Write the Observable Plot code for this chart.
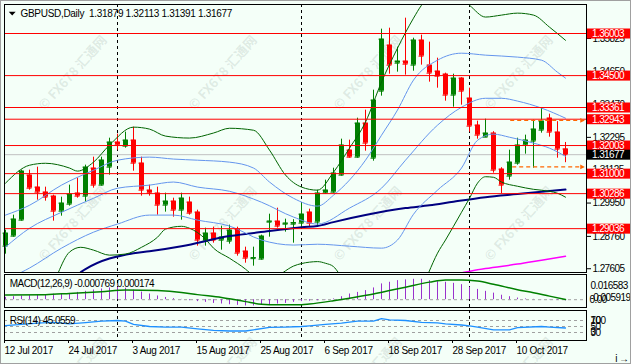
<!DOCTYPE html>
<html><head><meta charset="utf-8">
<script src="https://cdn.jsdelivr.net/npm/d3@7"></script>
<script src="https://cdn.jsdelivr.net/npm/@observablehq/plot@0.6"></script>
<style>
html,body{margin:0;padding:0;background:#F4FFF8;}
#wrap{position:relative;width:631px;height:364px;background:#F4FFF8;overflow:hidden;}
#wrap > svg{position:absolute;left:0;top:0;}
#border{position:absolute;left:0;top:0;width:631px;height:364px;box-sizing:border-box;border:1px solid #A0A0A0;}
</style></head>
<body><div id="wrap"></div>
<script>
// ---------------- DATA ----------------
const opens = [1.28411,1.28768,1.29339,1.30946,1.30517,1.30339,1.30196,1.29660,1.29910,1.30303,
1.30196,1.31195,1.30589,1.31231,1.32124,1.31981,1.32195,1.31374,1.30410,1.30303,
1.29875,1.30017,1.29696,1.29982,1.29625,1.28589,1.28875,1.28625,1.28589,1.29018,
1.28232,1.27965,1.27947,1.29268,1.29303,1.29196,1.29196,1.29232,1.29625,1.29268,
1.30303,1.30339,1.30946,1.31838,1.31588,1.32802,1.31552,1.33944,1.35587,1.34944,
1.35015,1.34873,1.35765,1.34873,1.34658,1.34551,1.33802,1.34408,1.33694,1.32731,
1.32302,1.32445,1.31160,1.30910,1.31374,1.32017,1.32159,1.32552,1.32980,1.32481,
1.31879];
const highs = [1.28982,1.29518,1.31124,1.31124,1.31231,1.30517,1.30232,1.30160,1.30589,1.30838,
1.31303,1.31588,1.31588,1.32266,1.32409,1.32481,1.32659,1.31588,1.30589,1.30517,
1.30303,1.30124,1.30303,1.30160,1.29696,1.29053,1.29089,1.29125,1.29161,1.29089,
1.28375,1.28375,1.28804,1.29553,1.29767,1.29375,1.29357,1.29946,1.29732,1.30410,
1.30767,1.31195,1.32231,1.32195,1.32980,1.33266,1.33980,1.36158,1.36193,1.35515,
1.36550,1.35836,1.35944,1.35694,1.35122,1.34587,1.34551,1.34426,1.34051,1.32873,
1.32945,1.32498,1.31213,1.31838,1.32266,1.32374,1.32909,1.33361,1.33123,1.32855,
1.32113];
const lows = [1.28125,1.28732,1.29303,1.30410,1.30053,1.30017,1.29303,1.29482,1.29839,1.30124,
1.29982,1.30481,1.30553,1.30946,1.31838,1.31909,1.31088,1.30196,1.30196,1.29518,
1.29625,1.29446,1.29339,1.29518,1.28411,1.28411,1.28518,1.28268,1.28482,1.28054,
1.27804,1.27697,1.27911,1.28732,1.29053,1.28911,1.28518,1.29089,1.29089,1.29089,
1.30267,1.30303,1.30910,1.31552,1.31552,1.31802,1.31445,1.33766,1.34551,1.34623,
1.34516,1.34658,1.34873,1.34266,1.34051,1.33587,1.33373,1.33445,1.32481,1.32231,
1.32285,1.31017,1.30286,1.30767,1.31303,1.31695,1.31195,1.32445,1.32302,1.31552,
1.31391];
const closes = [1.28875,1.29375,1.31088,1.30481,1.30339,1.30160,1.29660,1.29946,1.30267,1.30196,
1.31231,1.30589,1.31481,1.32124,1.32017,1.32195,1.31374,1.30410,1.30303,1.29875,
1.30017,1.29696,1.30124,1.29589,1.28625,1.28875,1.28625,1.28732,1.28982,1.28161,
1.27982,1.28000,1.28768,1.29303,1.29125,1.29232,1.29250,1.29553,1.29232,1.30303,
1.30410,1.31017,1.32017,1.31588,1.32802,1.32088,1.33623,1.35801,1.34873,1.35015,
1.34908,1.35765,1.35194,1.34587,1.34480,1.33802,1.34408,1.33944,1.32695,1.32374,
1.32445,1.31124,1.30589,1.31409,1.32017,1.32195,1.32588,1.32873,1.32481,1.31874,
1.31677];

const titleText = "GBPUSD,Daily\u00a0 1.31879 1.32113 1.31391 1.31677";
const levels = [1.36003, 1.34500, 1.33361, 1.32943, 1.32003, 1.31000, 1.30286, 1.29036];
const lastPrice = 1.31677;
const priceTicks = [1.27605, 1.28760, 1.29950, 1.31125, 1.32295, 1.33470, 1.34650, 1.35825];
const monthStarts = [14, 37, 58];
const dateTickIdx = [0, 8, 16, 24, 32, 40, 48, 56, 64];
const dateLabels = ["12 Jul 2017","24 Jul 2017","3 Aug 2017","15 Aug 2017","25 Aug 2017","6 Sep 2017","18 Sep 2017","28 Sep 2017","10 Oct 2017"];

// Bollinger bands (at sample bars)
const bbMidIdx = [0,3,7,11,14,18,21,24,28,32,36,39,43,47,50,54,57,60,62,64,67,70];
const bbMid = [1.2838,1.2905,1.2962,1.3012,1.3048,1.3059,1.3070,1.3052,1.3037,1.2998,1.2945,1.2920,1.2977,1.3048,1.3148,1.3273,1.3337,1.3369,1.3369,1.3359,1.3334,1.3298];
const bbUpBlueIdx = [0,3,7,11,14,18,21,24,28,31,33,36,39,41,43,45,47,49,51,54,57,60,64,67,69,70];
const bbUpBlue = [1.2952,1.2987,1.3059,1.3112,1.3148,1.3159,1.3152,1.3148,1.3141,1.3120,1.3070,1.3012,1.2984,1.3023,1.3077,1.3148,1.3237,1.3327,1.3434,1.3505,1.3530,1.3523,1.3516,1.3505,1.3462,1.3441];
const bbLowBlueIdx = [2,3,7,11,14,18,21,24,28,32,36,39,43,47,49,51,54,57,59,61,63,66,68,70];
const bbLowBlue = [1.2748,1.2763,1.2834,1.2891,1.2920,1.2952,1.2952,1.2934,1.2913,1.2863,1.2845,1.2848,1.2841,1.2834,1.2863,1.2955,1.3041,1.3120,1.3219,1.3241,1.3230,1.3209,1.3191,1.3162];
const bbUpGreenIdx = [0,3,5,8,9,11,13,16,18,20,23,26,28,31,33,35,37,39,41,43,45,47,49,51,52,54,56,58,60,62,64,66,68,70];
const bbUpGreen = [1.3066,1.3130,1.3137,1.3120,1.3109,1.3141,1.3202,1.3266,1.3259,1.3234,1.3227,1.3245,1.3262,1.3255,1.3184,1.3095,1.3052,1.3041,1.3105,1.3191,1.3284,1.3427,1.3548,1.3655,1.3701,1.3748,1.3748,1.3701,1.3659,1.3666,1.3673,1.3666,1.3623,1.3576];
const bbLowGreenIdx = [6.6,8,9.4,11,13,15,17,19,20,22,23,25,26,28,30,30.5,31,34.7,36,37,38,39,40,41,41.6,42,52.9,54,55,56,57,58,59,60,61,62,64,66,68,69,70];
const bbLowGreen = [1.2747,1.2820,1.2837,1.2827,1.2809,1.2813,1.2837,1.2873,1.2902,1.2912,1.2905,1.2866,1.2834,1.2798,1.2759,1.2747,null,1.2747,1.2770,1.2779,1.2784,1.2786,1.2780,1.2768,1.2747,null,1.2747,1.2816,1.2863,1.2912,1.2962,1.3012,1.3066,1.3089,1.3087,1.3070,1.3055,1.3044,1.3037,1.3030,1.3016];

// Moving averages
const ma100Idx = [9.4,10,16,18,22,28,33,37,39,41,45,50,53,56,60,64,70];
const ma100 = [1.2748,1.2759,1.2816,1.2823,1.2841,1.2877,1.2895,1.2909,1.2913,1.2927,1.2952,1.2977,1.2987,1.3000,1.3016,1.3027,1.3043];
const ma200Idx = [57.2,60,64,67,70];
const ma200 = [1.2747,1.2761,1.2777,1.2791,1.2805];

// Orange projection arrows (price, start bar, end bar)
const arrowPrice = [1.3290, 1.3124];
const arrowFrom = [63.15, 63.4];
const arrowTo = [71.8, 71.8];
const arrowHead = [72.1, 72.1];

// MACD
const macdLabel = "MACD(12,26,9) -0.000769 0.000174";
const macdMax = 0.016583, macdMin = -0.005919;
const macdHist = [0.00155,0.0020,0.0025,0.0027,0.0032,0.0034,0.0037,0.0037,0.0042,0.0049,
0.0056,0.0065,0.0072,0.0079,0.0083,0.0077,0.0064,0.0051,0.0038,0.0025,
0.0015,0.0007,0.0002,-0.0007,-0.0013,-0.0018,-0.0025,-0.0029,-0.0034,-0.0038,
-0.0042,-0.0042,-0.0038,-0.0034,-0.0029,-0.0025,-0.0018,-0.0013,-0.0010,-0.0007,
-0.0002,0.0005,0.0020,0.0038,0.0049,0.0061,0.0079,0.0106,0.0117,0.0128,
0.0133,0.0137,0.0137,0.0128,0.0121,0.0117,0.0110,0.0101,0.0083,0.0069,
0.0056,0.0044,0.0030,0.0020,0.0011,0.0005,0.0002,-0.0001,-0.0002,-0.0004,
-0.000769];
const macdSigIdx = [0,5,8,12,15,19,22,24,27,30,32,34,37,38,41,43,46,48,50,53,55,57,59,61,64,66,68,70];
const macdSig = [0.0032,0.0034,0.0042,0.0054,0.0065,0.0061,0.0049,0.0034,0.0015,-0.0013,-0.0030,-0.0034,-0.0034,-0.0029,-0.0007,0.0010,0.0038,0.0061,0.0084,0.0118,0.0133,0.0133,0.0125,0.0104,0.0067,0.0047,0.0024,0.000174];

// RSI
const rsiLabel = "RSI(14) 45.0559";
const rsiIdx = [0,2,4,6,8,10,12,14,15,16,18,20,22,24,26,28,30,31,33,35,37,38,40,42,44,46,47,48,50,52,54,55,57,58,59,61,63,64,67,68,70];
const rsi = [53,57,61,64,59,63,68,70,68,57,50,48,48,42,37,35,35,39,47,48,50,52,57,61,68,68,76,72,70,64,62,59,55,52,48,39,39,46,50,48,45.0559];
const rsiLevels = [30, 50, 70];

// ---------------- BUILD ----------------
const wrap = document.getElementById("wrap");
const FONT = "'Liberation Sans', Arial, sans-serif";
const style = (ls) => ({background: "transparent", fontFamily: FONT, fontSize: "10px", color: "black", letterSpacing: ls, overflow: "visible"});

const bars = opens.map((o, i) => ({i, open: o, high: highs[i], low: lows[i], close: closes[i]}));
const col = d => d.close >= d.open ? "#008000" : "#FF0000";
const half = 2.5 / 8;
const pts = (ix, vs) => ix.map((i, k) => ({i, v: vs[k]}));
const arrows = arrowPrice.map((p, k) => ({price: p, from: arrowFrom[k], to: arrowTo[k], head: arrowHead[k]}));
const dateMap = new Map(dateTickIdx.map((d, k) => [d, dateLabels[k]]));

const rightTri = {draw(ctx, size) { const s = Math.sqrt(size); ctx.moveTo(s * 0.55, 0); ctx.lineTo(-s * 0.45, -s * 0.5); ctx.lineTo(-s * 0.45, s * 0.5); ctx.closePath(); }};
const downTri = {draw(ctx, size) { const s = Math.sqrt(size); ctx.moveTo(-s * 0.75, -s * 0.3); ctx.lineTo(s * 0.75, -s * 0.3); ctx.lineTo(0, s * 0.5); ctx.closePath(); }};

// watermark layer
const wm = d3.create("svg").attr("width", 631).attr("height", 364);
for (const cy of [72, 223, 374]) for (const cx of [72, 222, 367, 518]) {
  wm.append("text").attr("transform", `translate(${cx},${cy}) rotate(-48)`)
    .attr("text-anchor", "middle").attr("dominant-baseline", "central")
    .attr("font-family", "'Noto Sans CJK SC','DejaVu Sans',sans-serif").attr("font-weight", "bold")
    .attr("font-size", 13).attr("fill", "#6f7f7a").attr("fill-opacity", 0.17).text("© FX678 汇通网");
}
wrap.append(wm.node());

const lineOpts = (stroke, w) => ({x: "i", y: "v", stroke, strokeWidth: w, curve: "monotone-x", clip: true});

const main = Plot.plot({
  width: 631, height: 364, marginLeft: 4, marginRight: 45, marginTop: 4, marginBottom: 92,
  x: {domain: [-0.125, 72.625], axis: null},
  y: {domain: [1.274707, 1.370383]},
  style: style("-0.3px"),
  marks: [
    Plot.ruleX(monthStarts, {stroke: "black", strokeDasharray: "3,3"}),
    Plot.ruleY([lastPrice], {stroke: "#C0C0C0"}),
    Plot.ruleX(bars, {x: "i", y1: "low", y2: "high", stroke: col}),
    Plot.ruleX(bars, {x: "i", y1: "open", y2: "close", stroke: col, strokeWidth: 5}),
    Plot.ruleY(bars, {y: "open", x1: d => d.i - half, x2: d => d.i + half, stroke: col}),
    Plot.ruleY(bars, {y: "close", x1: d => d.i - half, x2: d => d.i + half, stroke: col}),
    Plot.line(pts(ma200Idx, ma200), lineOpts("#FF00FF", 1.5)),
    Plot.line(pts(ma100Idx, ma100), lineOpts("#000080", 2)),
    Plot.line(pts(bbUpGreenIdx, bbUpGreen), lineOpts("#006400", 1)),
    Plot.line(pts(bbLowGreenIdx, bbLowGreen), lineOpts("#006400", 1)),
    Plot.line(pts(bbUpBlueIdx, bbUpBlue), lineOpts("#6495ED", 1)),
    Plot.line(pts(bbMidIdx, bbMid), lineOpts("#6495ED", 1)),
    Plot.line(pts(bbLowBlueIdx, bbLowBlue), lineOpts("#6495ED", 1)),
    Plot.ruleY(levels, {stroke: "#FF0000", strokeWidth: 1}),
    Plot.ruleY(arrows, {y: "price", x1: "from", x2: "to", stroke: "#FF6600", strokeDasharray: "4,3", strokeWidth: 1.2}),
    Plot.dot(arrows, {x: "head", y: "price", symbol: rightTri, r: 2.6, fill: "#FF6600", stroke: null}),
    Plot.frame({stroke: "black"}),
    Plot.axisY(priceTicks, {anchor: "right", tickSize: 4, tickPadding: 2, tickFormat: d3.format(".5f"), fontSize: 10}),
    Plot.text([titleText], {frameAnchor: "top-left", dx: 16, dy: 5.6, lineAnchor: "top", textAnchor: "start", fill: "black", fontSize: 10}),
    Plot.dot([0], {frameAnchor: "top-left", dx: 7.7, dy: 8.6, symbol: downTri, r: 2.6, fill: "black", stroke: null})
  ]
});
wrap.append(main);
d3.select(main).select('g[aria-label="y-axis tick label"]').style("letter-spacing", "-0.6px");

// price label boxes on the right axis, positioned through Plot's y scale
const ys = main.scale("y");
const Y = ys.apply ? (p => ys.apply(p)) : d3.scaleLinear(ys.domain, ys.range);
const boxG = d3.select(main).append("g").attr("text-anchor", "start");
const boxes = levels.map(p => ({p, fill: "#FF0000"})).concat([{p: lastPrice, fill: "#000000"}]);
for (const b of boxes) {
  const c = Y(b.p) + 0.5;
  boxG.append("rect").attr("x", 587).attr("y", c - 5).attr("width", 44).attr("height", 10).attr("fill", b.fill);
  boxG.append("text").attr("x", 592).attr("y", c + 3.6).attr("fill", "white").attr("font-size", 10)
    .attr("text-anchor", "start").attr("font-family", FONT).style("letter-spacing", "-0.6px").text(d3.format(".5f")(b.p));
}

const macd = Plot.plot({
  width: 631, height: 364, marginLeft: 4, marginRight: 45, marginTop: 274, marginBottom: 57,
  x: {domain: [-0.125, 72.625], axis: null},
  y: {domain: [macdMin, macdMax], range: [308, 274.5], axis: null},
  style: style("-0.55px"),
  marks: [
    Plot.ruleX(monthStarts, {stroke: "black", strokeDasharray: "3,3"}),
    Plot.ruleY([0], {stroke: "#A0A0A0", strokeDasharray: "3,3"}),
    Plot.ruleX(macdHist.map((v, i) => ({i, v})), {x: "i", y1: 0, y2: "v", stroke: "#9932CC"}),
    Plot.line(pts(macdSigIdx, macdSig), {x: "i", y: "v", stroke: "#008000", strokeWidth: 1.5, curve: "monotone-x", clip: true}),
    Plot.frame({stroke: "black"}),
    Plot.text([macdLabel], {frameAnchor: "top-left", dx: 5.3, dy: 5.4, lineAnchor: "top", textAnchor: "start", fill: "black", fontSize: 10}),
    Plot.text([macdMax], {frameAnchor: "top-right", dx: 4, dy: 7.5, text: d => String(d), textAnchor: "start", fill: "black", fontSize: 10}),
    Plot.text([0], {y: d => d, frameAnchor: "right", dx: 3, dy: 0.5, text: d => "0.00", textAnchor: "start", fill: "black", fontSize: 10}),
    Plot.text([macdMin], {frameAnchor: "bottom-right", dx: 4, dy: -6.5, text: d => String(d), textAnchor: "start", fill: "black", fontSize: 10})
  ]
});
wrap.append(macd);

const rsiPlot = Plot.plot({
  width: 631, height: 364, marginLeft: 4, marginRight: 45, marginTop: 310, marginBottom: 24,
  x: {domain: [-0.125, 72.625]},
  y: {domain: [0, 100], range: [341, 311], axis: null},
  style: style("-0.55px"),
  marks: [
    Plot.ruleX(monthStarts, {stroke: "black", strokeDasharray: "3,3"}),
    Plot.ruleY(rsiLevels, {stroke: "#A0A0A0", strokeDasharray: "3,3"}),
    Plot.line(pts(rsiIdx, rsi), {x: "i", y: "v", stroke: "#1E90FF", strokeWidth: 1.3, clip: true}),
    Plot.frame({stroke: "black"}),
    Plot.text([rsiLabel], {frameAnchor: "top-left", dx: 5.3, dy: 5.9, lineAnchor: "top", textAnchor: "start", fill: "black", fontSize: 10}),
    Plot.text([100], {frameAnchor: "top-right", dx: 4, dy: 6.5, text: d => String(d), textAnchor: "start", fill: "black", fontSize: 10}),
    Plot.text(rsiLevels, {y: d => d, frameAnchor: "right", dx: 4, dy: 0.5, text: d => String(d), textAnchor: "start", fill: "black", fontSize: 10}),
    Plot.text([0], {frameAnchor: "bottom-right", dx: 4, dy: -5.5, text: d => String(d), textAnchor: "start", fill: "black", fontSize: 10}),
    Plot.axisX(dateTickIdx, {anchor: "bottom", tickSize: 3, tickPadding: 3, tickFormat: d => dateMap.get(d), textAnchor: "start", dx: -1, fontSize: 10})
  ]
});
wrap.append(rsiPlot);
d3.select(rsiPlot).select('g[aria-label="x-axis tick label"]').style("letter-spacing", "-0.3px");

const border = document.createElement("div");
border.id = "border";
wrap.append(border);
</script>
</body></html>
